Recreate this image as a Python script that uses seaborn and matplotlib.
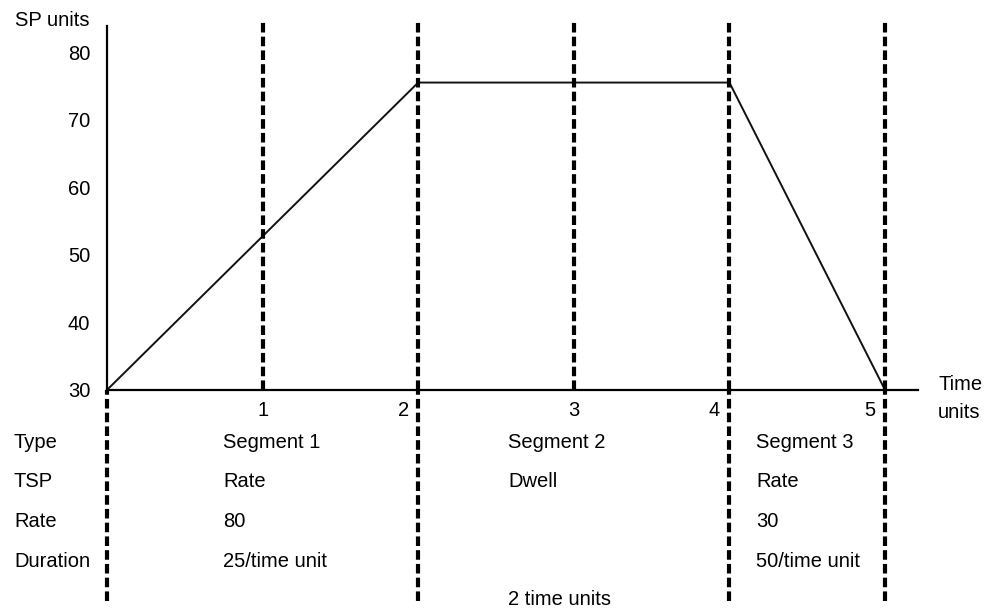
import matplotlib
matplotlib.use("Agg")
import matplotlib.pyplot as plt
import seaborn as sns
import pandas as pd

# setpoint profile
time_pts = [0, 2, 4, 5]
sp_vals = [30, 75.5, 75.5, 30]
y_ticks = [30, 40, 50, 60, 70, 80]

# segment boundaries; "full" ones run down through the table
full_bounds = [0, 2, 4, 5]
upper_bounds = [1, 2, 3, 4, 5]

# x tick labels: (value, alignment)
x_ticks = [1, 2, 3, 4, 5]
x_label_ha = ["center", "right", "center", "right", "right"]

row_names = ["Type", "TSP", "Rate", "Duration"]
seg_cols = [0.745, 2.577, 4.17]
seg_type = ["Segment 1", "Segment 2", "Segment 3"]
seg_tsp = ["Rate", "Dwell", "Rate"]
seg_rate = ["80", "", "30"]
seg_dur = ["25/time unit", "", "50/time unit"]
dwell_note = "2 time units"

sns.set_theme(style="white")
plt.rcParams["font.family"] = ["Liberation Sans", "DejaVu Sans"]
plt.rcParams["text.color"] = "black"
plt.rcParams["ytick.color"] = "black"
FS = 14.5

fig = plt.figure(figsize=(9.96, 6.1), dpi=100)
ax = fig.add_axes([0.1074, 0.3607, 0.814, 0.597])

df = pd.DataFrame({"t": time_pts, "sp": sp_vals})
sns.lineplot(data=df, x="t", y="sp", color="#111111", lw=1.4, ax=ax)

dash = (0, (2.3, 1.0))
for b in upper_bounds:
    ax.axvline(b, ymin=0, ymax=1.02, color="black", lw=3,
               ls=dash, clip_on=False, zorder=3)
for b in full_bounds:
    ax.axvline(b, ymin=-0.58, ymax=0, color="black", lw=3,
               ls=dash, clip_on=False, zorder=3)

ax.set_xlim(0, 5.21)
ax.set_ylim(30, 83.9)
ax.set_yticks(y_ticks)
ax.set_yticklabels([str(v) for v in y_ticks], fontsize=FS)
ax.tick_params(axis="y", length=0, pad=12)
ax.set_xticks([])
ax.set_xlabel("")
ax.set_ylabel("")
for s in ["top", "right"]:
    ax.spines[s].set_visible(False)
for s in ["left", "bottom"]:
    ax.spines[s].set_color("black")
    ax.spines[s].set_linewidth(1.6)

tr_x = ax.get_xaxis_transform()
for xv, ha in zip(x_ticks, x_label_ha):
    xo = xv - 0.06 if ha == "right" else xv
    ax.text(xo, -0.03, str(xv), transform=tr_x, ha=ha, va="top", fontsize=FS)

fig.text(0.015, 0.967, "SP units", ha="left", va="center", fontsize=FS)
fig.text(0.942, 0.370, "Time", ha="left", va="center", fontsize=FS)
fig.text(0.942, 0.323, "units", ha="left", va="center", fontsize=FS)

row_y = [0.274, 0.210, 0.145, 0.080]
for name, yy in zip(row_names, row_y):
    fig.text(0.014, yy, name, ha="left", va="center", fontsize=FS)

rows = [seg_type, seg_tsp, seg_rate, seg_dur]
for vals, yy in zip(rows, row_y):
    for xc, v in zip(seg_cols, vals):
        if v:
            xf = ax.transData.transform((xc, 30))[0] / fig.bbox.width
            fig.text(xf, yy, v, ha="left", va="center", fontsize=FS)

xf = ax.transData.transform((seg_cols[1], 30))[0] / fig.bbox.width
fig.text(xf, 0.017, dwell_note, ha="left", va="center", fontsize=FS)

fig.savefig("out.png", dpi=100)
